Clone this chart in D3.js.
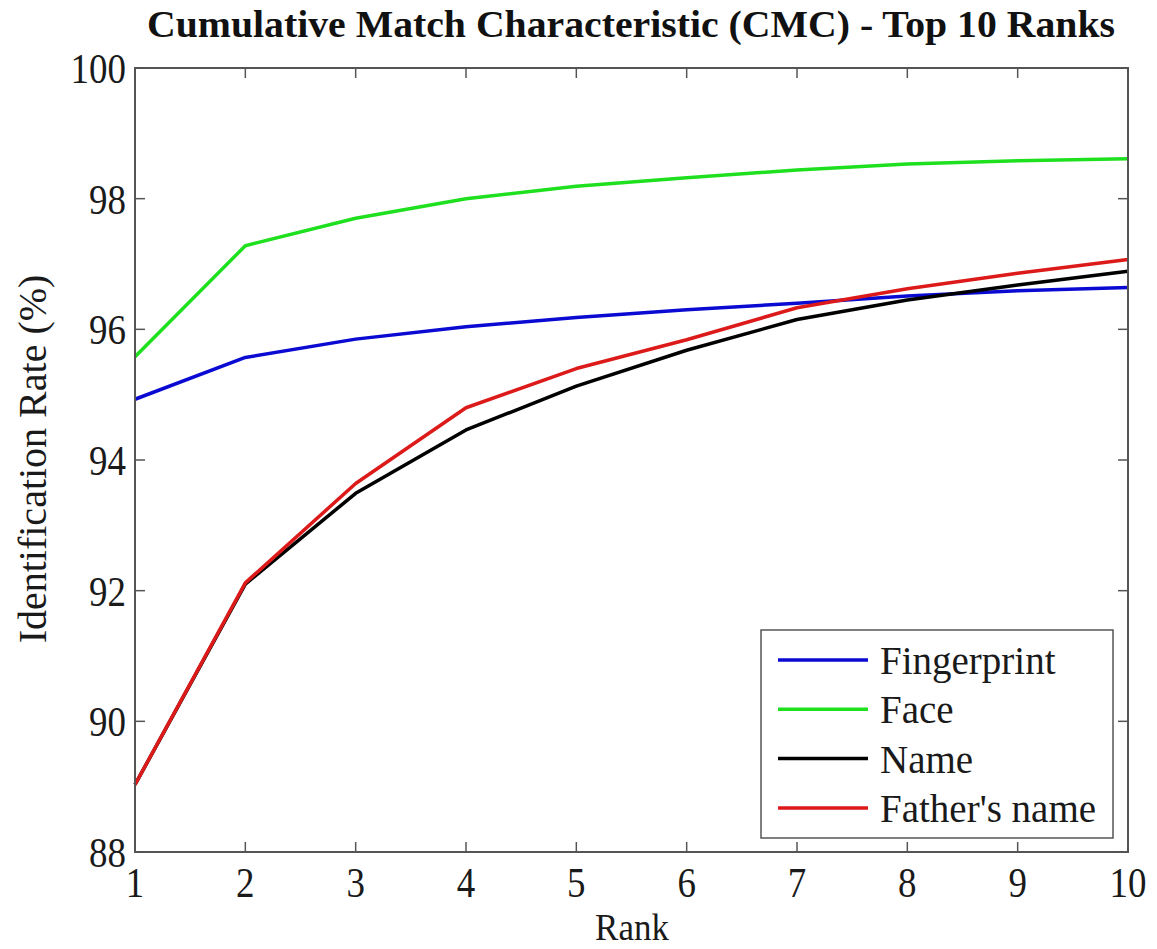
<!DOCTYPE html>
<html><head><meta charset="utf-8">
<script src="https://cdn.jsdelivr.net/npm/d3@7"></script>
<style>body{margin:0;background:#fff}</style>
</head><body>
<svg id="c" width="1157" height="949"></svg>
<script>
const ranks = [1,2,3,4,5,6,7,8,9,10];
const fingerprint = [94.93,95.57,95.85,96.04,96.18,96.30,96.40,96.51,96.59,96.64];
const face = [95.58,97.28,97.70,98.00,98.19,98.32,98.44,98.53,98.58,98.61];
const nameVals = [89.03,92.10,93.49,94.46,95.13,95.68,96.15,96.45,96.68,96.89];
const fatherName = [89.03,92.12,93.64,94.80,95.40,95.84,96.33,96.62,96.86,97.07];
const seriesNames = ["Fingerprint","Face","Name","Father's name"];
const seriesColors = ["#0a0ad2","#1ee01e","#000000","#dd1a1a"];
const yTicks = [88,90,92,94,96,98,100];

const series = [fingerprint, face, nameVals, fatherName];
const svg = d3.select("#c");
const L = 135, R = 1128, T = 68, B = 852;
const x = d3.scaleLinear().domain([1,10]).range([L,R]);
const y = d3.scaleLinear().domain([88,100]).range([B,T]);
const font = "'Liberation Serif','Times New Roman',serif";
const axisColor = "#555";
const textColor = "#1a1a1a";

function stext(px, py, str, size, anchor, sx, rot){
  const g = svg.append("g").attr("transform", `translate(${px},${py})` + (rot ? ` rotate(${rot})` : ""));
  return g.append("text").attr("transform", `scale(${sx},1)`).attr("text-anchor", anchor)
    .attr("font-family", font).attr("font-size", size).attr("fill", textColor).text(str);
}

// lines
const line = d3.line().x((d,i)=>x(ranks[i])).y(d=>y(d));
series.forEach((s,k)=>{
  svg.append("path").datum(s).attr("d",line).attr("fill","none")
    .attr("stroke",seriesColors[k]).attr("stroke-width",3.5).attr("stroke-linejoin","round");
});

// box
svg.append("rect").attr("x",L).attr("y",T).attr("width",R-L).attr("height",B-T)
  .attr("fill","none").attr("stroke",axisColor).attr("stroke-width",2);

// ticks (inward, all sides)
const tl = 10;
ranks.forEach(r=>{
  svg.append("line").attr("x1",x(r)).attr("x2",x(r)).attr("y1",B).attr("y2",B-tl).attr("stroke",axisColor).attr("stroke-width",1.5);
  svg.append("line").attr("x1",x(r)).attr("x2",x(r)).attr("y1",T).attr("y2",T+tl).attr("stroke",axisColor).attr("stroke-width",1.5);
  stext(x(r), B+45, r, 42, "middle", 0.88);
});
yTicks.forEach(v=>{
  svg.append("line").attr("x1",L).attr("x2",L+tl).attr("y1",y(v)).attr("y2",y(v)).attr("stroke",axisColor).attr("stroke-width",1.5);
  svg.append("line").attr("x1",R).attr("x2",R-tl).attr("y1",y(v)).attr("y2",y(v)).attr("stroke",axisColor).attr("stroke-width",1.5);
  stext(L-9, y(v)+15, v, 42, "end", 0.88);
});

// title
svg.append("text").attr("x",(147+1115)/2).attr("y",37).attr("text-anchor","middle")
  .attr("font-family",font).attr("font-weight","bold").attr("font-size",38)
  .attr("textLength",968).attr("lengthAdjust","spacingAndGlyphs")
  .attr("fill","#111").text("Cumulative Match Characteristic (CMC) - Top 10 Ranks");

// axis labels
stext(632, 940, "Rank", 38, "middle", 0.92);
svg.append("text").attr("transform","translate(46,459) rotate(-90)")
  .attr("text-anchor","middle").attr("font-family",font).attr("font-size",40)
  .attr("fill",textColor).text("Identification Rate (%)");

// legend
const lg = svg.append("g");
lg.append("rect").attr("x",761).attr("y",630).attr("width",352).attr("height",208)
  .attr("fill","#fff").attr("stroke",axisColor).attr("stroke-width",1.5);
seriesNames.forEach((n,k)=>{
  const yy = 660 + k*49.3;
  lg.append("line").attr("x1",778).attr("x2",868).attr("y1",yy).attr("y2",yy)
    .attr("stroke",seriesColors[k]).attr("stroke-width",3.5);
  lg.append("text").attr("x",880).attr("y",yy+14).attr("font-family",font)
    .attr("font-size",39).attr("fill",textColor).text(n);
});
</script>
</body></html>
